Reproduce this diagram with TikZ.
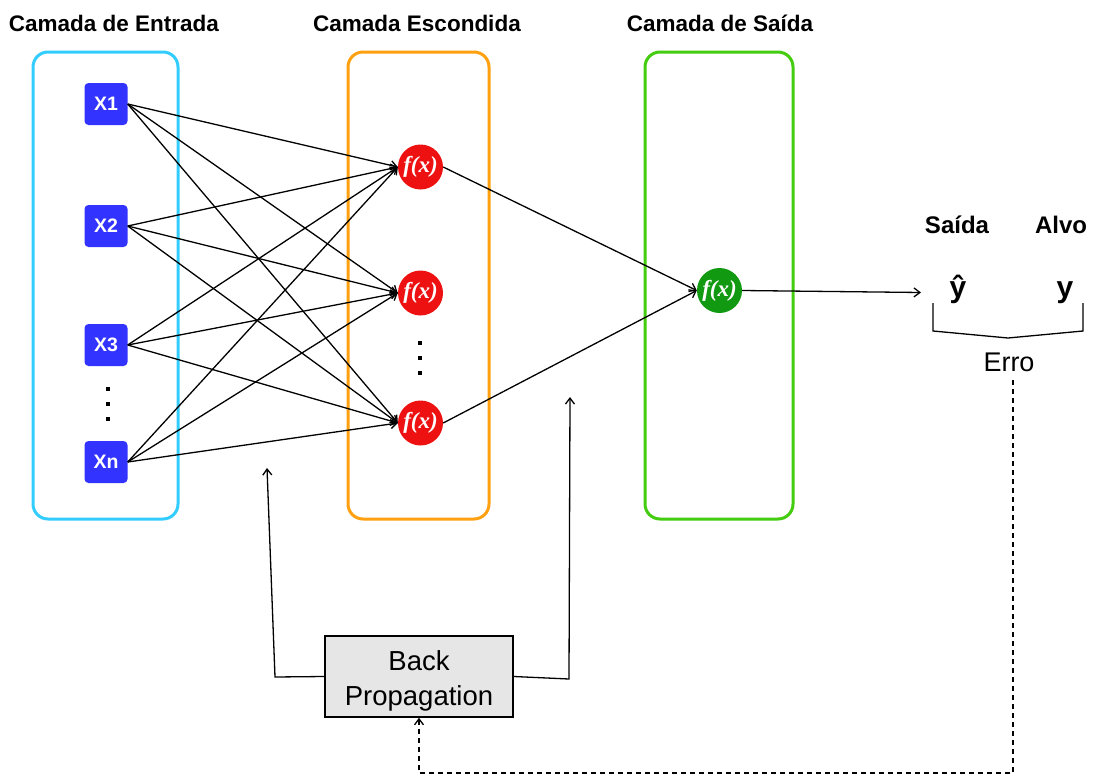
\documentclass[tikz,border=0pt]{standalone}
\usepackage{fontspec}
\setmainfont{Liberation Sans}
\newfontfamily\fxfont{Liberation Serif}
\usetikzlibrary{arrows.meta}
\definecolor{cyanb}{HTML}{33CCFF}
\definecolor{orangeb}{HTML}{FFA010}
\definecolor{greenb}{HTML}{44CC11}
\definecolor{bluen}{HTML}{3333FF}
\definecolor{redn}{HTML}{EE1111}
\definecolor{greenn}{HTML}{119911}
\definecolor{bpgray}{HTML}{E6E6E6}
\tikzset{
  layerbox/.style={draw=#1, line width=3pt, rounded corners=15pt, minimum width=145pt, minimum height=467pt, inner sep=0pt},
  innode/.style={fill=bluen, rounded corners=4pt, minimum width=43pt, minimum height=42pt, inner sep=0pt, text=white, font=\fontsize{19.5}{22}\selectfont\bfseries},
  fnode/.style={circle, fill=#1, minimum size=45pt, inner sep=0pt, text=white, font=\fxfont\fontsize{23}{25}\selectfont\bfseries\itshape},
  title/.style={anchor=base, font=\fontsize{22.5}{26}\selectfont\bfseries},
  lbl/.style={anchor=base, font=\fontsize{24}{28}\selectfont\bfseries},
  edge/.style={line width=1.3pt, -{Straight Barb[length=6pt,width=9pt]}},
  plain/.style={line width=1.3pt},
  dotmark/.style={fill=black, inner sep=0pt, minimum size=3.5pt},
}
\begin{document}
\begin{tikzpicture}[x=1pt,y=-1pt]
\useasboundingbox (0,0) rectangle (1095,779);
% layer boxes
\node[layerbox=cyanb, minimum width=145pt] (inbox) at (105.5,285.5) {};
\node[layerbox=orangeb, minimum width=141pt] (hidbox) at (418.5,285.5) {};
\node[layerbox=greenb, minimum width=148pt] (outbox) at (719,285.5) {};
% titles
\node[title] (t1) at (114,31) {Camada de Entrada};
\node[title] (t2) at (417,31) {Camada Escondida};
\node[title] (t3) at (720,31) {Camada de Saída};
% input nodes
\node[innode] (x1) at (106,104) {X1};
\node[innode] (x2) at (106,226) {X2};
\node[innode] (x3) at (106,345) {X3};
\node[innode] (xn) at (106,462) {Xn};
\node[dotmark] (d1) at (108,389) {};
\node[dotmark] (d2) at (108,404) {};
\node[dotmark] (d3) at (108,419) {};
% hidden nodes
\node[fnode=redn] (h1) at (420.5,167) {f(x)};
\node[fnode=redn] (h2) at (420.5,293) {f(x)};
\node[fnode=redn] (h3) at (420.5,423) {f(x)};
\node[dotmark] (e1) at (420,343) {};
\node[dotmark] (e2) at (420,358) {};
\node[dotmark] (e3) at (420,373) {};
% output node
\node[fnode=greenn] (o) at (719.5,290.5) {f(x)};
% edges input -> hidden
\foreach \i in {x1,x2,x3,xn}{
  \foreach \j in {h1,h2,h3}{
    \draw[edge] (\i.east) -- (\j.west);
  }
}
\draw[edge] (h1.east) -- (o.west);
\draw[edge] (h3.east) -- (o.west);
% output side
\coordinate (yin) at (921,292.5);
\draw[edge] (o.east) -- (yin);
\node[lbl] (sa) at (957,233) {Saída};
\node[lbl] (al) at (1061,233) {Alvo};
\node[anchor=base, font=\fontsize{30}{32}\selectfont\bfseries] (yhat) at (958,297) {ŷ};
\node[anchor=base, font=\fontsize{30}{32}\selectfont\bfseries] (yt) at (1065,297) {y};
\coordinate (b1) at (933,303);
\coordinate (b2) at (933,331);
\coordinate (b3) at (1008,338);
\coordinate (b4) at (1083,331);
\coordinate (b5) at (1083,303);
\draw[plain] (b1) -- (b2) -- (b3) -- (b4) -- (b5);
\node[anchor=base, font=\fontsize{27}{30}\selectfont] (erro) at (1009,371) {Erro};
% back propagation
\node[draw, line width=1.5pt, fill=bpgray, minimum width=188pt, minimum height=81pt, inner sep=0pt, align=center, font=\fontsize{27.5}{35}\selectfont] (bp) at (419,676.5) {\rule{0pt}{28pt}Back\\Propagation};
\coordinate (l1) at (275,677);
\coordinate (l2) at (267,468);
\draw[edge] (bp.west) -- (l1) -- (l2);
\coordinate (r1) at (569,679);
\coordinate (r2) at (570,397);
\draw[edge] (bp.east) -- (r1) -- (r2);
% dashed error feedback
\coordinate (e0) at (1013,380);
\coordinate (c1) at (1013,773);
\coordinate (c2) at (419,773);
\draw[edge, dash pattern=on 5pt off 4pt] (e0) -- (c1) -- (c2) -- (bp.south);
\end{tikzpicture}
\end{document}
